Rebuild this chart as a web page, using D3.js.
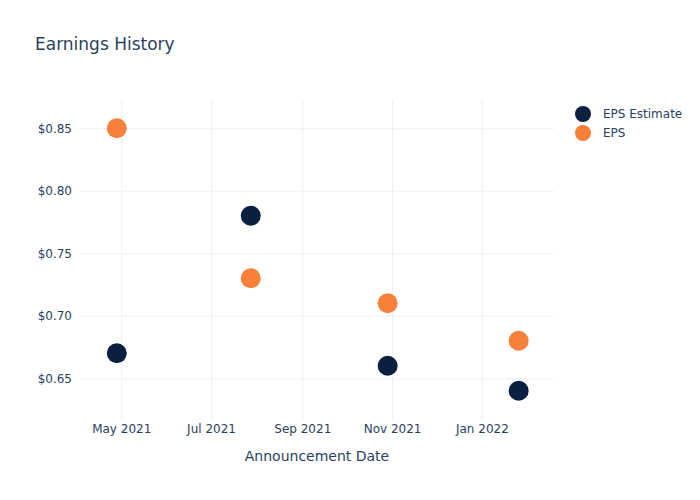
<!DOCTYPE html>
<html><head><meta charset="utf-8">
<script src="https://cdn.jsdelivr.net/npm/d3@7"></script>
<style>body{margin:0;background:#fff}text{font-family:"DejaVu Sans",sans-serif;fill:#2a3f5f}</style>
</head><body><svg id="c" width="700" height="500"></svg>
<script>
const dates = ["2021-04-28","2021-07-28","2021-10-29","2022-01-26"];
const epsEstimate = [0.67, 0.78, 0.66, 0.64];
const eps = [0.85, 0.73, 0.71, 0.68];
const yTicks = [0.65, 0.70, 0.75, 0.80, 0.85];
const xTicks = ["2021-05-01","2021-07-01","2021-09-01","2021-11-01","2022-01-01"];
const seriesNames = ["EPS Estimate", "EPS"];
const colors = ["#0b1f41", "#f7803a"];

const parse = d3.timeParse("%Y-%m-%d");
const svg = d3.select("#c");
const L=80, R=554, T=100, B=420;
const x = d3.scaleTime().domain([parse("2021-04-03"), parse("2022-02-19")]).range([L,R]);
const y = d3.scaleLinear().domain([0.6166, 0.8726]).range([B,T]);

svg.append("text").attr("x",35).attr("y",50).attr("font-size",17).text("Earnings History");

const gx = svg.append("g").attr("transform",`translate(0,${B})`)
  .call(d3.axisBottom(x).tickValues(xTicks.map(parse)).tickFormat(d3.timeFormat("%b %Y")).tickSize(-(B-T)).tickPadding(4));
gx.select(".domain").remove();
gx.selectAll("line").attr("stroke","#ebf0f8");
gx.selectAll("text").attr("font-size",12).style("fill","#2a3f5f");

const gy = svg.append("g").attr("transform",`translate(${L},0)`)
  .call(d3.axisLeft(y).tickValues(yTicks).tickFormat(d=>"$"+d3.format(".2f")(d)).tickSize(-(R-L)).tickPadding(8));
gy.select(".domain").remove();
gy.selectAll("line").attr("stroke","#ebf0f8");
gy.selectAll("text").attr("font-size",12).style("fill","#2a3f5f");

svg.append("text").attr("x",(L+R)/2).attr("y",461).attr("text-anchor","middle").attr("font-size",14).text("Announcement Date");

[epsEstimate, eps].forEach((vals,i)=>{
  svg.append("g").selectAll("circle").data(vals).join("circle")
    .attr("cx",(d,j)=>x(parse(dates[j]))).attr("cy",d=>y(d)).attr("r",10)
    .attr("fill",colors[i]);
});

const lg = svg.append("g");
seriesNames.forEach((n,i)=>{
  lg.append("circle").attr("cx",583).attr("cy",114+i*19).attr("r",8).attr("fill",colors[i]);
  lg.append("text").attr("x",603).attr("y",118+i*19).attr("font-size",12).text(n);
});
</script></body></html>
